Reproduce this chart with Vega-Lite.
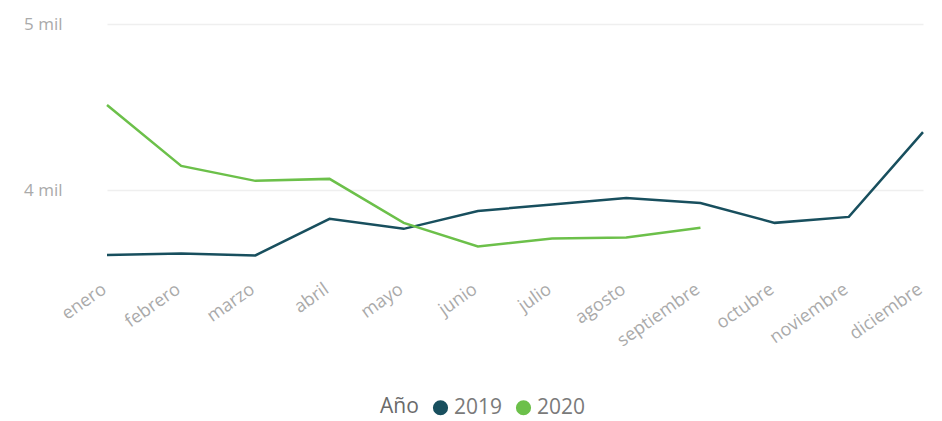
{
  "$schema": "https://vega.github.io/schema/vega-lite/v6.json",
  "width": 864,
  "height": 249,
  "padding": {"left": 78, "top": 24, "right": 0, "bottom": 148},
  "autosize": {"type": "none"},
  "background": "white",
  "config": {
    "view": {"stroke": null},
    "font": "Open Sans",
    "axis": {"domain": false, "ticks": false, "labelFont": "Open Sans", "labelColor": "#aaaaaa"}
  },
  "data": {
    "values": [
      {"mes": "enero", "orden": 1, "anio": "2019", "valor": 3608},
      {"mes": "febrero", "orden": 2, "anio": "2019", "valor": 3618},
      {"mes": "marzo", "orden": 3, "anio": "2019", "valor": 3606},
      {"mes": "abril", "orden": 4, "anio": "2019", "valor": 3826},
      {"mes": "mayo", "orden": 5, "anio": "2019", "valor": 3766},
      {"mes": "junio", "orden": 6, "anio": "2019", "valor": 3874},
      {"mes": "julio", "orden": 7, "anio": "2019", "valor": 3912},
      {"mes": "agosto", "orden": 8, "anio": "2019", "valor": 3952},
      {"mes": "septiembre", "orden": 9, "anio": "2019", "valor": 3922},
      {"mes": "octubre", "orden": 10, "anio": "2019", "valor": 3802},
      {"mes": "noviembre", "orden": 11, "anio": "2019", "valor": 3838},
      {"mes": "diciembre", "orden": 12, "anio": "2019", "valor": 4349},
      {"mes": "enero", "orden": 1, "anio": "2020", "valor": 4512},
      {"mes": "febrero", "orden": 2, "anio": "2020", "valor": 4145},
      {"mes": "marzo", "orden": 3, "anio": "2020", "valor": 4055},
      {"mes": "abril", "orden": 4, "anio": "2020", "valor": 4067},
      {"mes": "mayo", "orden": 5, "anio": "2020", "valor": 3802},
      {"mes": "junio", "orden": 6, "anio": "2020", "valor": 3660},
      {"mes": "julio", "orden": 7, "anio": "2020", "valor": 3708},
      {"mes": "agosto", "orden": 8, "anio": "2020", "valor": 3714},
      {"mes": "septiembre", "orden": 9, "anio": "2020", "valor": 3772}
    ]
  },
  "mark": {"type": "line", "strokeWidth": 2.5},
  "encoding": {
    "x": {
      "field": "mes",
      "type": "ordinal",
      "sort": {"field": "orden"},
      "scale": {"type": "point", "range": [29, 845], "padding": 0},
      "axis": {"title": null, "labelAngle": -35, "labelFontSize": 18, "labelPadding": 7, "labelOffset": -8, "grid": false}
    },
    "y": {
      "field": "valor",
      "type": "quantitative",
      "scale": {"domain": [3500, 5000], "nice": false, "zero": false},
      "axis": {
        "title": null,
        "values": [4000, 5000],
        "labelExpr": "datum.value / 1000 + ' mil'",
        "labelFontSize": 17,
        "labelPadding": 16,
        "grid": true,
        "gridColor": "#efefef",
        "gridWidth": 1.5
      }
    },
    "color": {
      "field": "anio",
      "type": "nominal",
      "scale": {"domain": ["2019", "2020"], "range": ["#184f5e", "#6cc04a"]},
      "legend": {
        "title": "Año",
        "orient": "none",
        "legendX": 302,
        "legendY": 373,
        "direction": "horizontal",
        "titleOrient": "left",
        "titleFont": "Open Sans",
        "titleFontSize": 21,
        "titleFontWeight": "normal",
        "titleColor": "#6a6a6a",
        "titlePadding": 11,
        "labelFont": "Open Sans",
        "labelFontSize": 21,
        "labelColor": "#7a7a7a",
        "labelOffset": 3,
        "labelLimit": 0,
        "columnPadding": 10,
        "symbolType": "circle",
        "symbolSize": 230,
        "symbolStrokeWidth": 0,
        "symbolOpacity": 1,
        "encode": {
          "symbols": {"update": {"fill": {"scale": "color", "field": "value"}, "fillOpacity": {"value": 1}}}
        }
      }
    }
  }
}
